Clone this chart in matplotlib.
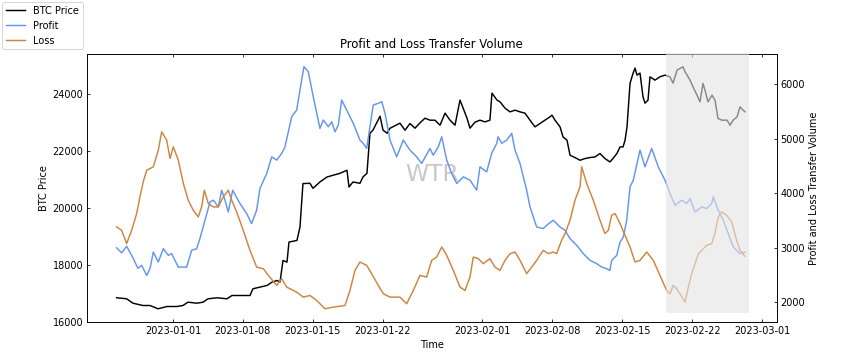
import numpy as np
import pandas as pd
import matplotlib
matplotlib.use("Agg")
import matplotlib.pyplot as plt
from matplotlib.patches import Rectangle

# Times are days after 2023-01-01 00:00
btc_days = [-5.64, -4.64, -4.01, -3.01, -2.30, -1.50, -0.60, 0.40, 1.00, 1.50, 2.40, 3.01, 3.51, 4.41,
            5.41, 5.91, 6.71, 7.71, 8.01, 8.71, 9.42, 9.92, 10.42, 10.72, 11.02, 11.42, 11.62, 12.42,
            12.72, 13.02, 13.72, 14.02, 14.72, 15.43, 16.03, 16.73, 17.43, 17.63, 18.03, 18.73, 19.03,
            19.43, 19.73, 20.03, 20.74, 21.04, 21.44, 21.74, 22.74, 23.24, 23.74, 24.24, 24.74, 25.24,
            25.74, 26.24, 26.75, 27.25, 27.75, 28.25, 28.75, 28.95, 29.45, 29.75, 30.25, 30.75, 31.25,
            31.75, 31.95, 32.46, 32.76, 33.26, 33.76, 34.26, 34.76, 35.26, 35.76, 36.26, 36.76, 37.26,
            37.76, 37.96, 38.27, 38.77, 39.07, 39.47, 39.77, 40.27, 40.77, 41.27, 41.77, 42.27, 42.77,
            43.27, 43.77, 44.07, 44.48, 44.78, 45.08, 45.28, 45.48, 45.78, 46.08, 46.28, 46.48, 46.78,
            47.08, 47.28, 47.58, 47.78, 48.28, 48.78, 49.28, 49.78, 50.09, 50.49, 50.79, 51.09, 51.29,
            51.79, 52.09, 52.49, 52.79, 53.09, 53.29, 53.59, 53.99, 54.29, 54.59, 54.99, 55.50, 55.80,
            56.10, 56.50, 56.80, 57.10, 57.30]
btc_price = [16867, 16831, 16677, 16596, 16596, 16480, 16561, 16561, 16596, 16712, 16677, 16712, 16831, 16867,
             16831, 16947, 16947, 16947, 17183, 17239, 17299, 17415, 17474, 17415, 18177, 18118, 18820, 18880,
             19347, 20873, 20883, 20707, 20929, 21104, 21164, 21234, 21340, 20753, 20929, 20883, 21104,
             21234, 22640, 22745, 23237, 22745, 22640, 22815, 22991, 22745, 22980, 22816, 23002, 23167,
             23097, 23097, 22921, 23343, 23097, 22921, 23800, 23624, 23167, 22816, 23027, 23097, 23037,
             23097, 24046, 23800, 23740, 23519, 23389, 23448, 23389, 23343, 23097, 22862, 22981, 23097,
             23213, 23273, 23097, 22862, 22510, 22394, 21867, 21786, 21691, 21751, 21786, 21807, 21927,
             21751, 21632, 21751, 21937, 22159, 22159, 22394, 22862, 24387, 24738, 24924, 24678, 24749,
             23916, 23694, 23800, 24618, 24502, 24618, 24678, 24618, 24397, 24854, 24914, 24970, 24794,
             24503, 24267, 23975, 23740, 24387, 24151, 23740, 23975, 23800, 23157, 23097, 23097, 22921,
             23097, 23213, 23564, 23448, 23389]

profit_days = [-5.64, -5.14, -4.64, -3.98, -3.51, -3.14, -2.63, -2.30, -1.97, -1.47, -0.97, -0.47, -0.13,
               0.53, 1.37, 1.87, 2.37, 2.70, 3.21, 3.71, 4.04, 4.54, 4.88, 5.21, 5.54, 5.98, 6.71, 7.38,
               7.88, 8.38, 8.71, 9.39, 9.89, 10.39, 10.89, 11.22, 11.89, 12.39, 12.72, 13.12, 13.55, 14.05,
               14.72, 15.06, 15.56, 15.90, 16.23, 16.56, 16.90, 17.40, 18.06, 18.73, 19.06, 19.40, 19.73,
               20.06, 20.56, 20.91, 21.24, 21.74, 22.41, 23.07, 23.74, 24.41, 24.91, 25.74, 26.07, 26.58,
               26.92, 27.42, 27.92, 28.42, 29.08, 29.75, 30.42, 30.75, 31.42, 31.92, 32.43, 32.56, 32.93,
               33.43, 33.93, 34.26, 34.76, 35.43, 35.76, 36.43, 37.09, 37.43, 38.09, 38.77, 39.27, 39.77,
               40.44, 41.10, 41.77, 42.44, 42.94, 43.44, 43.77, 43.94, 44.45, 44.78, 45.11, 45.45, 45.78,
               46.11, 46.78, 47.28, 47.95, 48.61, 49.28, 49.78, 50.29, 50.96, 51.46, 51.79, 52.29, 52.96,
               53.46, 53.96, 54.12, 54.62, 55.12, 55.62, 56.13, 56.80, 57.30]
profit_vol = [3000, 2908, 3028, 2807, 2624, 2679, 2495, 2624, 2923, 2740, 2985, 2862, 2894,
              2648, 2648, 2954, 2985, 3169, 3505, 3840, 3872, 3749, 4055, 3872, 3657, 4055, 3811, 3628,
              3444, 3688, 4086, 4362, 4666, 4606, 4729, 4850, 5400, 5523, 5890, 6318, 6226, 5767,
              5187, 5340, 5217, 5309, 5125, 5248, 5707, 5523, 5279, 4973, 4912, 4820, 5217,
              5615, 5646, 5676, 5463, 4973, 4666, 4973, 4789, 4666, 4545, 4820, 4697, 4850,
              5033, 4606, 4362, 4178, 4299, 4239, 4055, 4483, 4391, 4729, 4912, 5033, 4912,
              4973, 5096, 4789, 4545, 4055, 3749, 3382, 3352, 3413, 3505, 3382, 3321, 3169,
              3046, 2894, 2771, 2710, 2648, 2618, 2587, 2771, 2862, 3107, 3198, 3505, 4116,
              4239, 4789, 4483, 4820, 4483, 4239, 3995, 3780, 3872, 3811, 3903, 3657, 3749,
              3719, 3811, 3932, 3688, 3505, 3261, 3015, 2894, 2923]

loss_days = [-5.64, -5.14, -4.64, -4.14, -3.64, -3.31, -2.98, -2.63, -1.97, -1.47, -1.13, -0.63, -0.30,
             0.03, 0.53, 1.03, 1.53, 2.03, 2.53, 2.87, 3.14, 3.54, 4.04, 4.54, 5.04, 5.54, 5.88, 6.38,
             7.04, 7.71, 8.38, 9.05, 9.55, 10.39, 10.89, 11.39, 12.39, 13.05, 13.72, 14.39, 15.23, 16.06,
             17.23, 17.73, 18.23, 18.73, 19.40, 19.90, 20.56, 21.07, 21.74, 22.74, 23.41, 24.07, 24.74,
             25.41, 25.91, 26.41, 26.92, 27.42, 28.08, 28.75, 29.25, 29.75, 30.08, 30.58, 31.08, 31.75,
             32.25, 32.76, 33.26, 33.76, 34.26, 34.76, 35.43, 35.93, 36.43, 37.09, 37.59, 38.09, 38.43,
             38.93, 39.27, 39.77, 40.27, 40.77, 40.94, 41.44, 42.10, 42.77, 43.27, 43.61, 43.94, 44.28,
             44.78, 45.28, 45.78, 46.28, 46.78, 47.45, 48.11, 48.78, 49.45, 49.78, 50.11, 50.45, 50.78,
             51.29, 51.62, 51.96, 52.63, 52.96, 53.46, 53.96, 54.29, 54.62, 54.96, 55.46, 55.96, 56.46,
             56.80, 57.30]
loss_vol = [3382, 3321, 3077, 3321, 3628, 3932, 4208, 4422, 4483, 4789, 5125, 4973, 4637,
            4850, 4606, 4184, 3872, 3688, 3565, 3749, 4055, 3811, 3749, 3749, 3932, 4055, 3872, 3657,
            3321, 2954, 2648, 2618, 2495, 2312, 2435, 2281, 2189, 2097, 2128, 2037, 1884, 1914,
            1945, 2220, 2587, 2740, 2679, 2527, 2312, 2160, 2097, 2097, 1976, 2220, 2495,
            2464, 2771, 2831, 3015, 2862, 2587, 2281, 2220, 2464, 2831, 2802, 2710, 2802,
            2648, 2587, 2771, 2894, 2923, 2771, 2527, 2648, 2771, 2954, 2894, 2923, 2894,
            3138, 3261, 3505, 3872, 4116, 4483, 4178, 3872, 3505, 3261, 3321, 3596, 3628,
            3444, 3229, 3015, 2740, 2771, 2923, 2771, 2495, 2220, 2160, 2312, 2251, 2160,
            2006, 2281, 2527, 2894, 2954, 3046, 3077, 3261, 3565, 3657, 3596, 3474, 3138,
            2954, 2844]

start = pd.Timestamp("2023-01-01")
btc_t = start + pd.to_timedelta(btc_days, unit="D")
profit_t = start + pd.to_timedelta(profit_days, unit="D")
loss_t = start + pd.to_timedelta(loss_days, unit="D")

fig = plt.figure(figsize=(863 / 70, 359 / 70), dpi=70)
ax = fig.add_axes([0.1005, 0.1017, 0.7995, 0.748])
ax2 = ax.twinx()

l1, = ax.plot(btc_t, btc_price, color="black", lw=1.5, label="BTC Price")
l2, = ax2.plot(profit_t, profit_vol, color="cornflowerblue", lw=1.5, label="Profit")
l3, = ax2.plot(loss_t, loss_vol, color="peru", lw=1.5, label="Loss")

ax.set_ylim(16000, 25420)
ax2.set_ylim(1633, 6550)
ax.set_yticks([16000, 18000, 20000, 22000, 24000])
ax2.set_yticks([2000, 3000, 4000, 5000, 6000])
ticks = pd.to_datetime(["2023-01-01", "2023-01-08", "2023-01-15", "2023-01-22",
                        "2023-02-01", "2023-02-08", "2023-02-15", "2023-02-22", "2023-03-01"])
ax.set_xticks(ticks)
ax.set_xticklabels([d.strftime("%Y-%m-%d") for d in ticks])
ax.set_xlim(pd.Timestamp("2022-12-23 08:40"), pd.Timestamp("2023-03-02 11:20"))

ax.tick_params(direction="in", top=True)
ax2.tick_params(direction="in")

ax.set_title("Profit and Loss Transfer Volume")
ax.set_xlabel("Time")
ax.set_ylabel("BTC Price")
ax2.set_ylabel("Profit and Loss Transfer Volume")

ax.text(0.5, 0.55, "WTR", transform=ax.transAxes, fontsize=24, color="#c8c8c8",
        ha="center", va="center", zorder=5)

fig.legend(handles=[l1, l2, l3], loc="upper left", bbox_to_anchor=(0, 1), borderaxespad=0.2)

# faded overlay block on the right
fig.add_artist(Rectangle((0.7714, 0.128), 0.0965, 0.724, transform=fig.transFigure,
                         facecolor="#e4e4e4", edgecolor="none", alpha=0.6, zorder=10))

fig.savefig("out.png", dpi=70)
